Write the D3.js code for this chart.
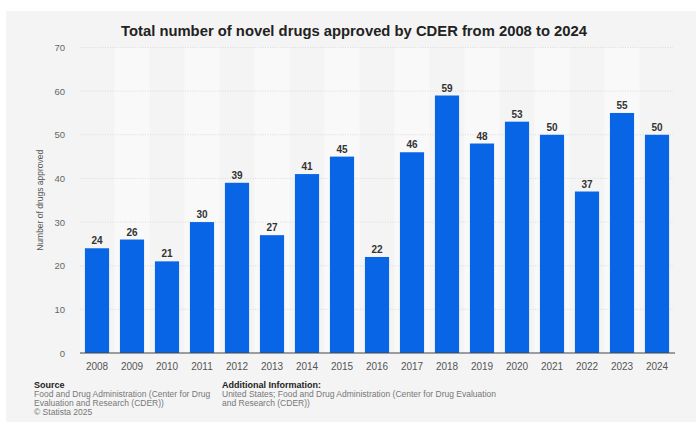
<!DOCTYPE html>
<html>
<head>
<meta charset="utf-8">
<script src="https://cdn.jsdelivr.net/npm/d3@7"></script>
<style>
  html, body { margin: 0; padding: 0; background: #ffffff; }
  svg { display: block; font-family: "Liberation Sans", Arial, Helvetica, sans-serif; }
</style>
</head>
<body>
<svg id="chart" width="696" height="422"></svg>
<script>
const years = ["2008","2009","2010","2011","2012","2013","2014","2015","2016","2017","2018","2019","2020","2021","2022","2023","2024"];
const approvals = [24, 26, 21, 30, 39, 27, 41, 45, 22, 46, 59, 48, 53, 50, 37, 55, 50];
const yTicks = [0, 10, 20, 30, 40, 50, 60, 70];
const titleText = "Total number of novel drugs approved by CDER from 2008 to 2024";
const yAxisTitle = "Number of drugs approved";
const sourceLines = ["Food and Drug Administration (Center for Drug", "Evaluation and Research (CDER))", "© Statista 2025"];
const infoLines = ["United States; Food and Drug Administration (Center for Drug Evaluation", "and Research (CDER))"];

const svg = d3.select("#chart");

// panel background
svg.append("rect").attr("x", 6).attr("y", 11).attr("width", 690).attr("height", 411).attr("fill", "#f4f4f4");

const x = d3.scaleBand().domain(years).range([79.5, 674.5]).paddingInner(0.31).paddingOuter(0.155);
const bandFull = d3.scaleBand().domain(years).range([79.5, 674.5]).padding(0);
const y = d3.scaleLinear().domain([0, 70]).range([353, 47.5]);

// alternating column bands
svg.append("g").selectAll("rect").data(years.filter((d, i) => i % 2 === 1)).join("rect")
  .attr("x", d => bandFull(d)).attr("width", bandFull.bandwidth())
  .attr("y", y(70)).attr("height", y(0) - y(70))
  .attr("fill", "#f9f9f9");

// gridlines
svg.append("g").selectAll("line").data(yTicks.filter(t => t > 0)).join("line")
  .attr("x1", 80).attr("x2", 673)
  .attr("y1", d => y(d)).attr("y2", d => y(d))
  .attr("stroke", "#d4d4d4").attr("stroke-width", 0.8).attr("stroke-dasharray", "1,1.5");

// y axis labels
const yAxis = d3.axisLeft(y).tickValues(yTicks).tickSize(0).tickPadding(0);
const yg = svg.append("g").attr("transform", "translate(65,0)").call(yAxis);
yg.select(".domain").remove();
yg.selectAll("text").attr("fill", "#666").attr("font-size", 9.5).attr("font-family", "Liberation Sans, Arial, sans-serif");

// y axis title
svg.append("text")
  .attr("transform", `translate(43,${y(35)}) rotate(-90)`)
  .attr("text-anchor", "middle")
  .attr("fill", "#555").attr("font-size", 8.5)
  .attr("font-family", "Liberation Sans Narrow, Liberation Sans, Arial, sans-serif")
  .text(yAxisTitle);

// bars
svg.append("g").selectAll("rect").data(years).join("rect")
  .attr("x", d => x(d)).attr("width", x.bandwidth())
  .attr("y", (d, i) => y(approvals[i]))
  .attr("height", (d, i) => y(0) - y(approvals[i]))
  .attr("fill", "#0866e6");

// value labels
svg.append("g").selectAll("text").data(years).join("text")
  .attr("x", d => x(d) + x.bandwidth() / 2)
  .attr("y", (d, i) => y(approvals[i]) - 4)
  .attr("text-anchor", "middle")
  .attr("font-size", 10).attr("font-weight", "bold").attr("fill", "#333")
  .text((d, i) => approvals[i]);

// x axis
const xAxis = d3.axisBottom(x).tickSize(0).tickPadding(10);
const xg = svg.append("g").attr("transform", `translate(0,${y(0)})`).call(xAxis);
xg.select(".domain").attr("stroke", "#444").attr("stroke-width", 1.2).attr("d", "M80,0H675");
xg.selectAll("text").attr("fill", "#555").attr("font-size", 10).attr("font-family", "Liberation Sans, Arial, sans-serif");

// title
svg.append("text")
  .attr("x", 354).attr("y", 36)
  .attr("text-anchor", "middle")
  .attr("font-size", 14.8).attr("font-weight", "bold").attr("fill", "#222")
  .text(titleText);

// source block
svg.append("text").attr("x", 34).attr("y", 388).attr("font-size", 9).attr("font-weight", "bold").attr("fill", "#222").text("Source");
svg.append("g").selectAll("text").data(sourceLines).join("text")
  .attr("x", 34).attr("y", (d, i) => 397 + i * 9)
  .attr("font-size", 8.5).attr("fill", "#777").text(d => d);

svg.append("text").attr("x", 222).attr("y", 388).attr("font-size", 9).attr("font-weight", "bold").attr("fill", "#222").text("Additional Information:");
svg.append("g").selectAll("text").data(infoLines).join("text")
  .attr("x", 222).attr("y", (d, i) => 397 + i * 9)
  .attr("font-size", 8.5).attr("fill", "#777").text(d => d);
</script>
</body>
</html>
